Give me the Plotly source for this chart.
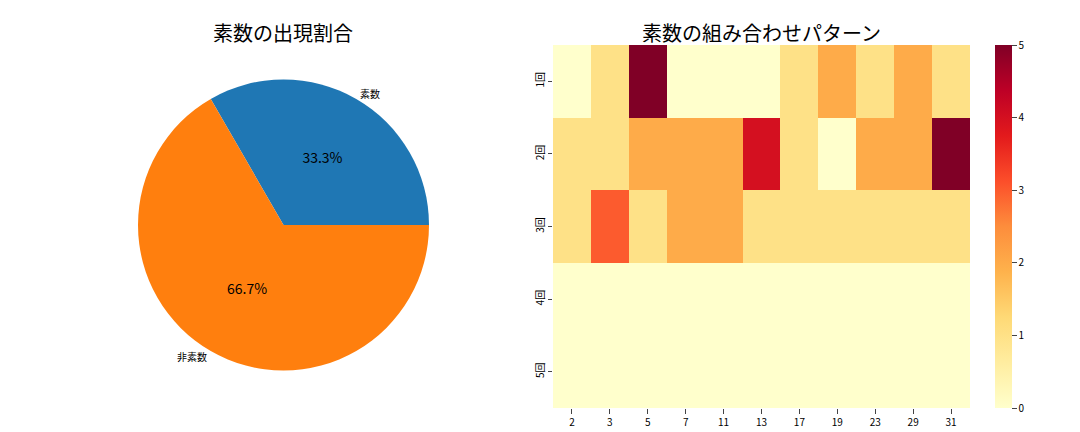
import plotly.graph_objects as go

pie_labels = ["素数", "非素数"]
pie_values = [1, 2]
pie_colors = ["#1f77b4", "#ff7f0e"]

cols = ["2", "3", "5", "7", "11", "13", "17", "19", "23", "29", "31"]
rows = ["1回", "2回", "3回", "4回", "5回"]
z = [
    [0, 1, 5, 0, 0, 0, 1, 2, 1, 2, 1],
    [1, 1, 2, 2, 2, 4, 1, 0, 2, 2, 5],
    [1, 3, 1, 2, 2, 1, 1, 1, 1, 1, 1],
    [0] * 11,
    [0] * 11,
]

W, H = 1080, 432
def dx(a, b): return [a / W, b / W]
def dy(a, b): return [1 - b / H, 1 - a / H]

fig = go.Figure()
pdom = dict(x=dx(130, 421), y=dy(70, 364))
for k in range(2):
    fig.add_trace(go.Pie(
        labels=pie_labels, values=pie_values, sort=False,
        direction="clockwise", rotation=-30,
        marker=dict(colors=pie_colors if k == 0 else ["rgba(0,0,0,0)"] * 2),
        textinfo="percent" if k == 0 else "label",
        texttemplate="%{percent:.1%}" if k == 0 else "%{label}",
        textposition="inside" if k == 0 else "outside",
        insidetextorientation="horizontal",
        textfont=dict(size=14 if k == 0 else 10, color="black"),
        domain=pdom, showlegend=False, hoverinfo="skip"))

fig.add_trace(go.Heatmap(z=z, x=cols, y=rows, colorscale="YlOrRd", zmin=0, zmax=5,
                         xaxis="x", yaxis="y",
                         colorbar=dict(x=987 / W, xanchor="left", len=(400 - 37) / H,
                                       lenmode="fraction",
                                       y=1 - 37 / H, yanchor="top", yref="paper",
                                       thickness=17, ypad=0, xpad=0,
                                       outlinewidth=0, ticks="outside",
                                       tickvals=[0, 1, 2, 3, 4, 5],
                                       tickfont=dict(size=10))))

fig.update_layout(
    width=W, height=H, paper_bgcolor="white", plot_bgcolor="white",
    margin=dict(l=0, r=0, t=0, b=0),
    font=dict(family="Noto Sans CJK JP", color="black"),
    xaxis=dict(domain=dx(545, 962), type="category", ticks="outside",
               tickfont=dict(size=10), showgrid=False),
    yaxis=dict(domain=dy(37, 400), type="category", autorange="reversed",
               ticks="outside", ticklen=4, tickangle=-90, tickfont=dict(size=10),
               showgrid=False),
    annotations=[
        dict(text="素数の出現割合", x=275 / W, y=1 - 25 / H, xref="paper", yref="paper",
             xanchor="center", yanchor="middle", showarrow=False, font=dict(size=20)),
        dict(text="素数の組み合わせパターン", x=753 / W, y=1 - 25 / H, xref="paper",
             yref="paper", xanchor="center", yanchor="middle", showarrow=False,
             font=dict(size=20)),
    ],
)
fig.write_html("out.html")
